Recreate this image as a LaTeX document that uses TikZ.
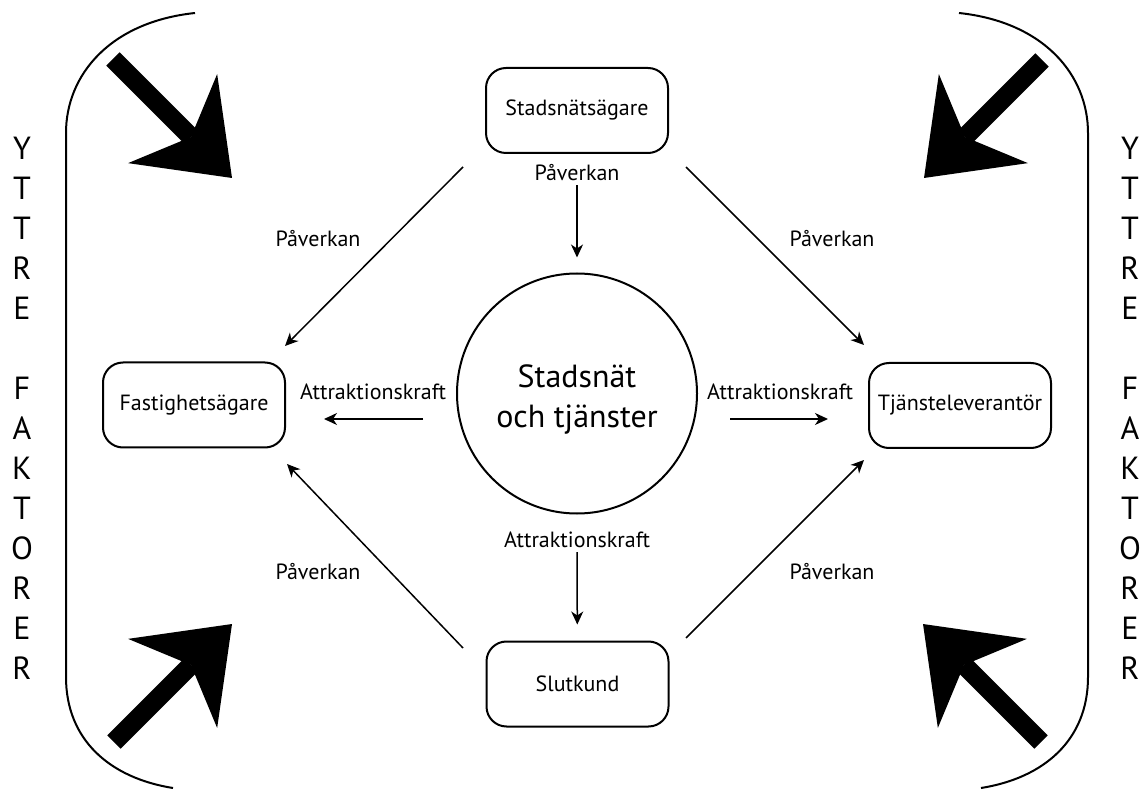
\documentclass[tikz,border=0pt]{standalone}
\usepackage{fontspec}
\setmainfont{PT Sans}
\usetikzlibrary{arrows.meta,calc}

\begin{document}
\begin{tikzpicture}[x=1pt,y=-1pt,line width=1.5pt,
	conn/.style={-{Stealth[length=13pt,width=12pt,inset=4pt]}},
	bigarrow/.style={line width=19pt,-{Stealth[length=84pt,width=126pt,inset=26pt,line width=0pt]}},
	lbl/.style={font=\fontsize{22}{26}\selectfont},
	side/.style={align=center,font=\fontsize{32}{40}\selectfont}]

	\useasboundingbox (0,0) rectangle (1141,791);

	\begin{scope}[every node/.style={draw,rectangle,rounded corners=20pt,line width=2pt,minimum width=182pt,minimum height=85pt,lbl}]
		\node (owner) at (577,110.5) {Stadsnätsägare};
		\node (estate) at (194,405) {Fastighetsägare};
		\node (provider) at (960,405.5) {Tjänsteleverantör};
		\node (customer) at (577.5,684) {Slutkund};
	\end{scope}

	\node[draw,circle,line width=2pt,minimum size=240pt,align=center,font=\fontsize{32}{40}\selectfont] (net) at (577,393.5) {\rule{0pt}{35pt}Stadsnät\\och tjänster};

	\node[lbl] (inf0) at (577,173) {Påverkan};
	\node[lbl] (inf1) at (318,239) {Påverkan};
	\node[lbl] (inf2) at (832,239) {Påverkan};
	\node[lbl] (inf3) at (318,572) {Påverkan};
	\node[lbl] (inf4) at (832,572) {Påverkan};

	\node[lbl] (attr1) at (373,391.5) {Attraktionskraft};
	\node[lbl] (attr2) at (780,391.5) {Attraktionskraft};
	\node[lbl] (attr3) at (577,540) {Attraktionskraft};

	\node[side] (leftfac) at (22,408.5) {Y\\T\\T\\R\\E\\[40pt]F\\A\\K\\T\\O\\R\\E\\R};
	\node[side] (rightfac) at (1130,408.5) {Y\\T\\T\\R\\E\\[40pt]F\\A\\K\\T\\O\\R\\E\\R};

	\draw[line width=2pt] (195,13) .. controls (110,22) and (66,75) .. (66,133) -- (66,677) .. controls (66,740) and (110,778) .. (173,788);
	\draw[line width=2pt] (959,13) .. controls (1044,22) and (1088,75) .. (1088,133) -- (1088,677) .. controls (1088,740) and (1044,778) .. (981,788);

	\coordinate (tlfrom) at (113,59);
	\coordinate (tlto) at (232,178);
	\coordinate (trfrom) at (1042,60);
	\coordinate (trto) at (924,178);
	\coordinate (blfrom) at (114,742);
	\coordinate (blto) at (232,624);
	\coordinate (brfrom) at (1041,742);
	\coordinate (brto) at (923,624);
	\draw[bigarrow] (tlfrom) -- (tlto);
	\draw[bigarrow] (trfrom) -- (trto);
	\draw[bigarrow] (blfrom) -- (blto);
	\draw[bigarrow] (brfrom) -- (brto);

	\draw[conn,shorten >=15pt] (inf0) -- (net);
	\draw[conn,shorten >=16pt] (attr3) -- (customer);
	\draw[conn] ($(net.west)+(-33,25.5)$) -- ($(estate.east)+(38,14)$);
	\draw[conn] ($(net.east)+(32,25.5)$) -- ($(provider.west)+(-40,13.5)$);

	\draw[conn] ($(owner.south west)+(-22,13)$) -- ($(estate.north east)+(-1,-15.5)$);
	\draw[conn] ($(owner.south east)+(17,13)$) -- ($(provider.north west)+(-4,-17)$);
	\draw[conn] ($(customer.north west)+(-22.5,7.5)$) -- ($(estate.south east)+(1,15.5)$);
	\draw[conn] ($(customer.north east)+(16.5,-2.5)$) -- ($(provider.south west)+(-4,11)$);

\end{tikzpicture}
\end{document}
